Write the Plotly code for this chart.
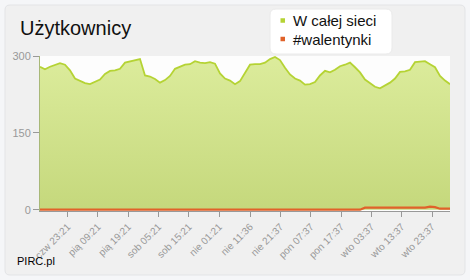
import plotly.graph_objects as go
import pandas as pd

# ---- data ----
series_names = ["W całej sieci", "#walentynki"]
all_users = [279, 274, 279, 283, 286, 283, 272, 256, 251, 247, 245, 249, 254, 265, 271, 272,
             275, 287, 289, 292, 294, 262, 260, 255, 248, 253, 261, 275, 279, 283, 284, 290,
             287, 286, 288, 285, 266, 256, 252, 245, 251, 268, 283, 284, 284, 287, 294, 298,
             292, 277, 264, 256, 252, 244, 245, 249, 262, 271, 268, 273, 280, 283, 287, 278,
             268, 254, 247, 240, 237, 242, 248, 256, 269, 270, 273, 288, 289, 290, 284, 278,
             261, 252, 245]
valentine = [0] * 65 + [4] * 13 + [6, 5, 2, 2, 2]
tick_times = ["2012-02-09 23:21", "2012-02-10 09:21", "2012-02-10 19:21", "2012-02-11 05:21",
              "2012-02-11 15:21", "2012-02-12 01:21", "2012-02-12 11:36", "2012-02-12 21:37",
              "2012-02-13 07:37", "2012-02-13 17:37", "2012-02-14 03:37", "2012-02-14 13:37",
              "2012-02-14 23:37"]
tick_labels = ["czw 23:21", "pią 09:21", "pią 19:21", "sob 05:21", "sob 15:21", "nie 01:21",
               "nie 11:36", "nie 21:37", "pon 07:37", "pon 17:37", "wto 03:37", "wto 13:37",
               "wto 23:37"]
y_ticks = [0, 150, 300]
start_time = "2012-02-09 14:15"

times = pd.date_range(start_time, periods=len(all_users), freq="99min")

GREEN = "#b5d334"
ORANGE = "#e0622a"
COLORS = [GREEN, ORANGE]
FONT = "Liberation Sans, Arial, sans-serif"

W, H = 470, 280
L, R, T, B = 40, 20, 56, 69
PW, PH = W - L - R, H - T - B


def px(x):
    return (x - L) / PW


def py(y):
    return (H - B - y) / PH


fig = go.Figure()
fig.add_trace(go.Scatter(
    x=times, y=all_users, mode="lines", name=series_names[0],
    line=dict(color=GREEN, width=1.8), fill="tozeroy",
    fillgradient=dict(type="vertical", start=0, stop=300,
                      colorscale=[[0, "#c5d87c"], [1, "#dcec9c"]]),
    showlegend=False, hoverinfo="skip"))
fig.add_trace(go.Scatter(
    x=times, y=valentine, mode="lines", name=series_names[1],
    line=dict(color=ORANGE, width=2.2), showlegend=False, hoverinfo="skip"))


def rrect(x0, y0, x1, y1, r):
    X0, X1 = px(x0), px(x1)
    Y0, Y1 = py(y0), py(y1)
    rx, ry = r / PW, r / PH
    return (f"M {X0+rx} {Y0} L {X1-rx} {Y0} Q {X1} {Y0} {X1} {Y0-ry} "
            f"L {X1} {Y1+ry} Q {X1} {Y1} {X1-rx} {Y1} L {X0+rx} {Y1} "
            f"Q {X0} {Y1} {X0} {Y1+ry} L {X0} {Y0-ry} Q {X0} {Y0} {X0+rx} {Y0} Z")


fig.add_shape(type="path", xref="paper", yref="paper", path=rrect(5, 5, 465, 275, 5),
              fillcolor="#f0f0f0", line=dict(color="#e3e4e6", width=1), layer="below")
# white plot background
fig.add_shape(type="rect", xref="paper", yref="paper", x0=0, x1=1, y0=0, y1=1,
              fillcolor="#fdfdfd", line=dict(width=0), layer="below")
# legend box (drawn above the plot)
fig.add_shape(type="path", xref="paper", yref="paper", path=rrect(270, 9, 392, 54, 6),
              fillcolor="#ffffff", line=dict(color="#eaeaea", width=1), layer="above")

legend_rows = [20.5, 39]
for name, col, yc in zip(series_names, COLORS, legend_rows):
    fig.add_shape(type="rect", xref="paper", yref="paper",
                  x0=px(280.5), x1=px(285), y0=py(yc + 2.25), y1=py(yc - 2.25),
                  fillcolor=col, line=dict(width=0), layer="above")
    fig.add_annotation(text=name, xref="paper", yref="paper", x=px(291), y=py(yc),
                       xanchor="left", yanchor="middle", showarrow=False,
                       font=dict(family=FONT, size=15, color="#111111"))

fig.add_annotation(text="Użytkownicy", xref="paper", yref="paper", x=px(18), y=py(28),
                   xanchor="left", yanchor="middle", showarrow=False,
                   font=dict(family=FONT, size=20, color="#111111"))
fig.add_annotation(text="PIRC.pl", xref="paper", yref="paper", x=px(15), y=py(261),
                   xanchor="left", yanchor="middle", showarrow=False,
                   font=dict(family=FONT, size=11, color="#000000"))

fig.update_layout(
    width=W, height=H,
    margin=dict(l=L, r=R, t=T, b=B),
    paper_bgcolor="#f5f6f8", plot_bgcolor="rgba(0,0,0,0)",
    font=dict(family=FONT),
    showlegend=False,
    xaxis=dict(range=[times[0], times[-1]], tickmode="array", tickvals=tick_times,
               ticktext=tick_labels, tickangle=-45, ticks="outside", ticklen=5,
               tickcolor="#999999", showgrid=False, zeroline=False, showline=True,
               linecolor="#999999", linewidth=1,
               tickfont=dict(family=FONT, size=10, color="#999999")),
    yaxis=dict(range=[-2.5, 300], tickvals=y_ticks, ticks="outside", ticklen=6,
               tickcolor="#999999", showgrid=False, zeroline=False, showline=True,
               linecolor="#a8b878", linewidth=1,
               tickfont=dict(family=FONT, size=11, color="#999999")),
)

fig.write_html("out.html")
